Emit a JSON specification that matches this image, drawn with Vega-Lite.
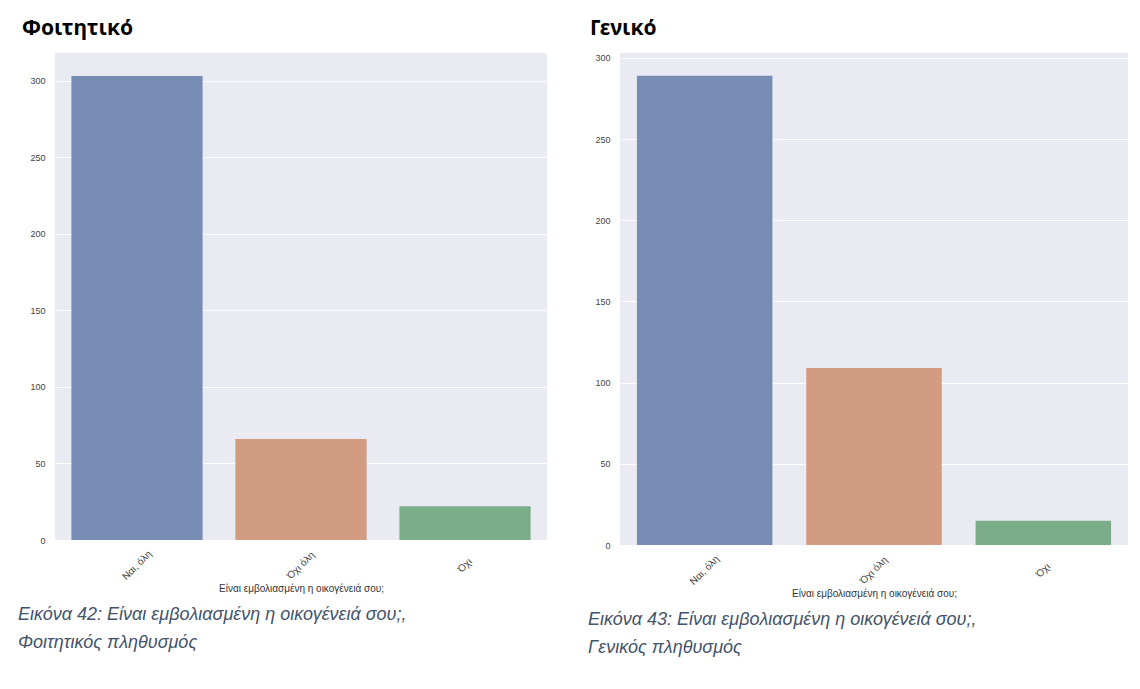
{
  "$schema": "https://vega.github.io/schema/vega-lite/v6.json",
  "background": "white",
  "padding": {"left": 18, "top": 18, "right": 5, "bottom": 5},
  "datasets": {
    "student": [
      {"answer": "Ναι, όλη", "count": 303},
      {"answer": "Όχι όλη", "count": 66},
      {"answer": "Όχι", "count": 22}
    ],
    "general": [
      {"answer": "Ναι, όλη", "count": 289},
      {"answer": "Όχι όλη", "count": 109},
      {"answer": "Όχι", "count": 15}
    ]
  },
  "config": {
    "font": "Liberation Sans",
    "view": {"fill": "#EAEAF2", "stroke": null},
    "axis": {
      "labelFont": "Liberation Sans",
      "labelFontSize": 9,
      "labelColor": "#444444",
      "titleFont": "Liberation Sans",
      "titleFontSize": 10,
      "titleFontWeight": "normal",
      "titleColor": "#333333",
      "ticks": false,
      "domain": false,
      "gridColor": "white",
      "gridWidth": 1,
      "gridOpacity": 1
    },
    "title": {
      "font": "Noto Sans",
      "fontSize": 21,
      "fontWeight": "bold",
      "color": "black",
      "anchor": "start",
      "frame": "group"
    },
    "concat": {"spacing": 41}
  },
  "hconcat": [
    {
      "title": {"text": "Φοιτητικό", "offset": 14, "dx": -33},
      "vconcat": [
        {
          "data": {"name": "student"},
          "width": 492,
          "height": 487,
          "title": {
            "text": ["Εικόνα 42: Είναι εμβολιασμένη η οικογένειά σου;,", "Φοιτητικός πληθυσμός"],
            "orient": "bottom",
            "anchor": "start",
            "frame": "group",
            "dx": -37,
            "font": "Liberation Sans",
            "fontStyle": "italic",
            "fontWeight": "normal",
            "fontSize": 18,
            "lineHeight": 28,
            "color": "#44546A",
            "offset": 12
          },
          "mark": {"type": "bar"},
          "encoding": {
            "x": {
              "field": "answer",
              "type": "nominal",
              "sort": null,
              "scale": {"paddingInner": 0.2, "paddingOuter": 0.1},
              "axis": {"title": "Είναι εμβολιασμένη η οικογένειά σου;", "labelAngle": -45, "labelAlign": "center", "labelBaseline": "middle", "labelFontSize": 10, "labelPadding": 25, "titlePadding": 2, "grid": false}
            },
            "y": {
              "field": "count",
              "type": "quantitative",
              "scale": {"domain": [0, 318], "nice": false},
              "axis": {"title": null, "values": [0, 50, 100, 150, 200, 250, 300], "labelPadding": 10, "grid": true}
            },
            "color": {
              "field": "answer",
              "type": "nominal",
              "sort": null,
              "scale": {"domain": ["Ναι, όλη", "Όχι όλη", "Όχι"], "range": ["#768CB4", "#D29C80", "#7BAD88"]},
              "legend": null
            }
          }
        }
      ]
    },
    {
      "title": {"text": "Γενικό", "offset": 14, "dx": -30},
      "vconcat": [
        {
          "data": {"name": "general"},
          "width": 508,
          "height": 492,
          "title": {
            "text": ["Εικόνα 43: Είναι εμβολιασμένη η οικογένειά σου;,", "Γενικός πληθυσμός"],
            "orient": "bottom",
            "anchor": "start",
            "frame": "group",
            "dx": -32,
            "font": "Liberation Sans",
            "fontStyle": "italic",
            "fontWeight": "normal",
            "fontSize": 18,
            "lineHeight": 28,
            "color": "#44546A",
            "offset": 12
          },
          "mark": {"type": "bar"},
          "encoding": {
            "x": {
              "field": "answer",
              "type": "nominal",
              "sort": null,
              "scale": {"paddingInner": 0.2, "paddingOuter": 0.1},
              "axis": {"title": "Είναι εμβολιασμένη η οικογένειά σου;", "labelAngle": -45, "labelAlign": "center", "labelBaseline": "middle", "labelFontSize": 10, "labelPadding": 25, "titlePadding": 2, "grid": false}
            },
            "y": {
              "field": "count",
              "type": "quantitative",
              "scale": {"domain": [0, 303], "nice": false},
              "axis": {"title": null, "values": [0, 50, 100, 150, 200, 250, 300], "labelPadding": 10, "grid": true}
            },
            "color": {
              "field": "answer",
              "type": "nominal",
              "sort": null,
              "scale": {"domain": ["Ναι, όλη", "Όχι όλη", "Όχι"], "range": ["#768CB4", "#D29C80", "#7BAD88"]},
              "legend": null
            }
          }
        }
      ]
    }
  ]
}
